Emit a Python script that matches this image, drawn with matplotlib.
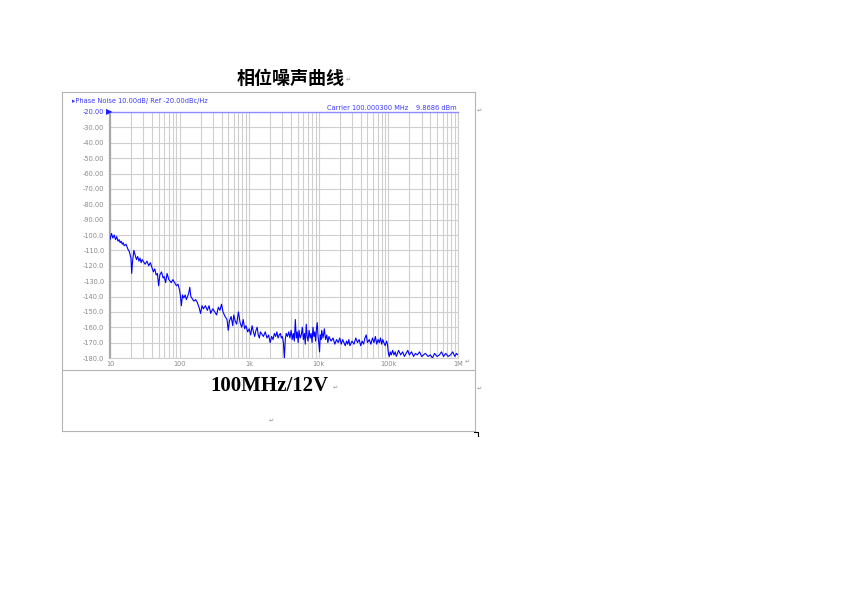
import matplotlib
matplotlib.use('Agg')
import matplotlib.pyplot as plt
from matplotlib.lines import Line2D

W, H = 848, 599

# Phase noise trace (offset Hz, dBc/Hz)
freq_hz = [
    10, 10.5, 11, 11.5, 12, 12.5, 13, 13.5, 14, 14.5, 15, 15.5, 16, 17, 18, 19, 20, 20.5, 21, 22,
    23, 24, 25, 26, 27, 28, 29, 30, 32, 34, 36, 38, 40, 42, 44, 46, 48, 50, 52, 55,
    58, 60, 63, 66, 70, 73, 76, 80, 85, 90, 95, 100, 103, 106, 110, 115, 120, 125, 130, 135,
    140, 145, 150, 160, 170, 180, 190, 200, 210, 220, 235, 250, 265, 280, 300, 320, 340, 360, 380, 400,
    420, 450, 480, 500, 520, 550, 580, 600, 630, 660, 700, 740, 780, 820, 860, 900, 950,
    1000, 1050, 1100, 1150, 1200, 1250, 1300, 1350, 1400, 1450, 1500, 1600, 1700, 1800, 1900, 2000, 2100, 2200, 2300, 2400,
    2500, 2600, 2700, 2800, 2900, 3000, 3100, 3200, 3300, 3400, 3550, 3700, 3850, 4000, 4150, 4300, 4450, 4600, 4750, 4900,
    5050, 5200, 5400, 5600, 5800, 6000, 6200, 6400, 6600, 6800, 7000, 7250, 7500, 7750, 8000, 8250, 8500, 8750, 9000, 9250,
    9500, 9750, 10000, 10250, 10500, 10750, 11000, 11500, 12000, 12500, 13000, 13500, 14000, 15000, 16000, 17000, 18000, 19000, 20000, 21000,
    22000, 23000, 24000, 25000, 26000, 27000, 28000, 30000, 32000, 34000, 36000, 38000, 40000, 42000, 44000, 46000, 48000, 50000, 53000, 56000,
    59000, 62000, 65000, 68000, 71000, 74000, 77000, 80000, 83000, 86000, 90000, 94000, 97000, 100000, 103000, 106000, 110000, 115000, 120000, 125000,
    130000, 135000, 140000, 150000, 160000, 170000, 180000, 190000, 200000, 215000, 230000, 245000, 260000, 280000, 300000, 320000, 340000, 370000, 400000, 430000,
    460000, 500000, 540000, 580000, 620000, 670000, 720000, 780000, 840000, 900000, 950000, 1000000,
]
noise_dbc = [
    -103, -99, -102, -100, -103, -101, -104, -103, -105, -104, -106, -105, -107, -106, -109, -111, -115, -125, -118, -110,
    -113, -116, -114, -117, -115, -118, -116, -117, -119, -117, -120, -118, -121, -124, -122, -126, -125, -133, -126, -124,
    -128, -127, -131, -125, -129, -130, -131, -129, -131, -133, -132, -136, -140, -146, -139, -141, -139, -142, -140, -138,
    -134, -140, -141, -143, -142, -144, -147, -151, -146, -148, -146, -149, -146, -151, -148, -150, -152, -147, -149, -145,
    -150, -153, -155, -162, -156, -153, -159, -152, -156, -158, -150, -157, -160, -155, -161, -159, -163,
    -161, -165, -159, -163, -166, -162, -160, -165, -167, -163, -164, -166, -163, -167, -165, -170, -166, -168, -164, -166,
    -163, -167, -165, -164, -167, -166, -170, -180, -168, -164, -166, -163, -167, -162, -168, -164, -169, -155, -167, -163,
    -170, -162, -167, -165, -160, -168, -164, -171, -158, -166, -169, -162, -167, -164, -170, -160, -166, -163, -169, -161,
    -157, -166, -170, -176, -165, -168, -162, -167, -161, -168, -165, -170, -166, -169, -167, -171, -168, -170, -167, -171,
    -168, -170, -172, -169, -171, -168, -172, -169, -171, -167, -170, -168, -172, -169, -171, -167, -165, -170, -168, -171,
    -167, -170, -166, -171, -168, -170, -167, -171, -168, -170, -172, -169, -171, -177, -179, -176, -178, -175, -178, -176,
    -179, -177, -175, -178, -176, -179, -177, -175, -178, -176, -179, -177, -178, -176, -179, -178, -177, -179, -178, -180,
    -177, -179, -178, -176, -179, -177, -179, -178, -176, -179, -177, -178,
]
assert len(freq_hz) == len(noise_dbc)

x_major = [10, 100, 1e3, 1e4, 1e5, 1e6]
x_labels = ['10', '100', '1k', '10k', '100k', '1M']
y_ticks = list(range(-20, -190, -10))
y_labels = ['%.2f' % v if v > -100 else '%.1f' % v for v in y_ticks]

title_text = '相位噪声曲线'
caption_text = '100MHz/12V'
header_text = '\u25b8Phase Noise 10.00dB/ Ref -20.00dBc/Hz'
carrier_text = 'Carrier 100.000300 MHz'
power_text = '9.8686 dBm'

blue_txt = '#3a3aff'
grey_txt = '#8a8a8a'
grid_col = '#cfcfcf'


def fx(px):
    return px / W


def fy(py):
    return 1 - py / H


fig = plt.figure(figsize=(W / 100, H / 100), dpi=100, facecolor='white')

# plot area of the analyser screenshot
ax = fig.add_axes([fx(110), fy(358), fx(458) - fx(110), fy(112) - fy(358)])
ax.set_xscale('log')
ax.set_xlim(10, 1e6)
ax.set_ylim(-180, -20)

minor = [m * 10 ** d for d in range(1, 6) for m in range(2, 10)]
ax.set_xticks(x_major)
ax.set_xticklabels(x_labels)
ax.set_xticks(minor, minor=True)
ax.set_xticklabels([], minor=True)
ax.set_yticks(y_ticks)
ax.set_yticklabels(y_labels)
ax.tick_params(which='both', length=0, labelsize=4.8, labelcolor=grey_txt, pad=4)
ax.tick_params(axis='x', pad=2)
ax.get_yticklabels()[0].set_color(blue_txt)
ax.grid(which='both', color=grid_col, linewidth=0.8)
ax.set_axisbelow(True)

for side in ['bottom', 'right']:
    ax.spines[side].set_color(grid_col)
    ax.spines[side].set_linewidth(0.8)
ax.spines['left'].set_color('#a8a8a8')
ax.spines['left'].set_linewidth(1.6)
ax.spines['top'].set_color('#8c8cff')
ax.spines['top'].set_linewidth(1.0)

ax.plot(freq_hz, noise_dbc, color='#0000ff', linewidth=0.8, zorder=3)

# reference marker at top-left
fig.text(fx(106), fy(112), '\u25b6', color='#1a1aff', fontsize=6, ha='left', va='center')

fig.text(fx(72), fy(101), header_text, color=blue_txt, fontsize=4.8, ha='left', va='center')
fig.text(fx(327), fy(108.5), carrier_text, color=blue_txt, fontsize=4.8, ha='left', va='center')
fig.text(fx(457), fy(108.5), power_text, color=blue_txt, fontsize=4.8, ha='right', va='center')

# document text
fig.text(fx(291), fy(78), title_text, fontsize=13, fontweight='bold',
         family=['Noto Sans CJK SC', 'DejaVu Sans'], ha='center', va='center')
fig.text(fx(269), fy(386), caption_text, fontsize=15, fontweight='bold',
         family='Liberation Serif', ha='center', va='center')

ret = '\u21b5'
for px, py in [(348, 80), (479, 111), (467, 362), (335, 388), (479, 389), (271, 421)]:
    fig.text(fx(px), fy(py), ret, fontsize=4.5, color='#9a9a9a', ha='center', va='center')

# table / picture frame lines
frame = '#b4b4b4'
segs = [
    ((62, 475), (92, 92)),
    ((62, 62), (92, 431)),
    ((475, 475), (92, 431)),
    ((62, 475), (370, 370)),
    ((62, 475), (431, 431)),
]
for xs, ys in segs:
    fig.add_artist(Line2D([fx(xs[0]), fx(xs[1])], [fy(ys[0]), fy(ys[1])],
                          color=frame, linewidth=0.8, transform=fig.transFigure))
fig.add_artist(Line2D([fx(474), fx(478), fx(478)], [fy(432), fy(432), fy(436)],
                      color='black', linewidth=0.8, transform=fig.transFigure))

fig.savefig('out.png', dpi=100, facecolor='white')
